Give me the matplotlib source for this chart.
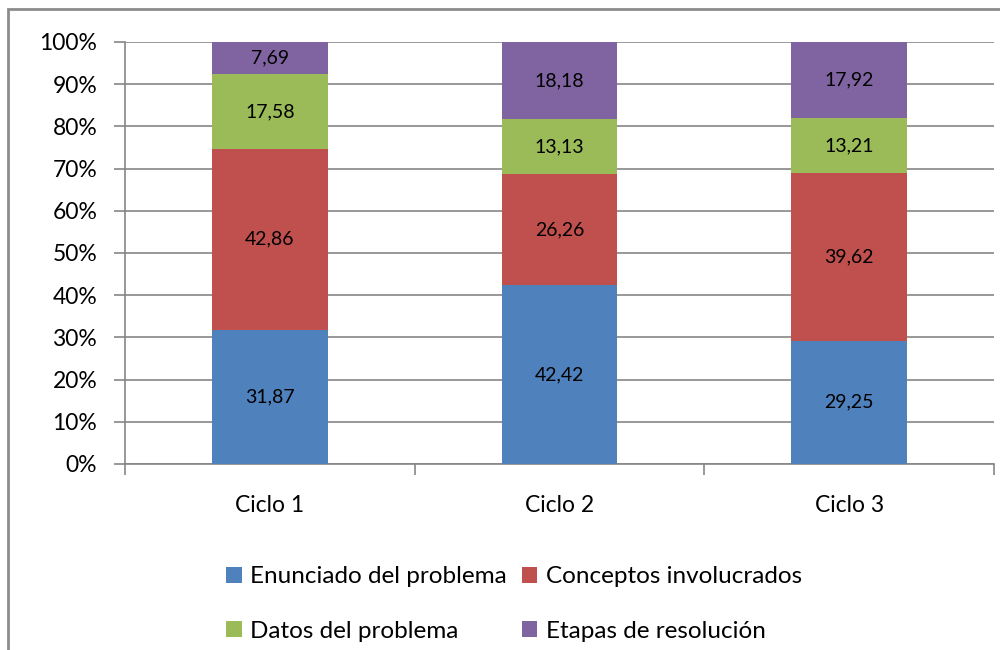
import matplotlib.pyplot as plt
from matplotlib.patches import Rectangle
import numpy as np

plt.rcParams["font.family"] = ["Lato", "DejaVu Sans"]

# Data
ciclos = ["Ciclo 1", "Ciclo 2", "Ciclo 3"]
series_names = [
    "Enunciado del problema",
    "Conceptos involucrados",
    "Datos del problema",
    "Etapas de resolución",
]
enunciado = [31.87, 42.42, 29.25]
conceptos = [42.86, 26.26, 39.62]
datos = [17.58, 13.13, 13.21]
etapas = [7.69, 18.18, 17.92]

colors = ["#4F81BD", "#C0504D", "#9BBB59", "#8064A2"]
grid_gray = "#868686"

fig = plt.figure(figsize=(10, 6.5), dpi=100)
ax = fig.add_axes([0.125, 1 - 464 / 650, 0.869, (464 - 42) / 650])

x = np.arange(len(ciclos))
bottom = np.zeros(len(ciclos))
handles = []
for name, vals, c in zip(series_names, [enunciado, conceptos, datos, etapas], colors):
    vals = np.array(vals)
    bars = ax.bar(x, vals, 0.4, bottom=bottom, color=c, edgecolor="none", label=name, zorder=3)
    for xi, v, b in zip(x, vals, bottom):
        ax.text(xi, b + v / 2, f"{v:.2f}".replace(".", ","), ha="center", va="center",
                fontsize=14, color="black", zorder=4)
    bottom = bottom + vals
    handles.append(bars)

ax.set_xlim(-0.5, 2.5)
ax.set_ylim(0, 100)
ax.set_yticks(np.arange(0, 101, 10))
ax.set_yticklabels([f"{v}%" for v in range(0, 101, 10)], fontsize=16.5)
ax.yaxis.grid(True, color=grid_gray, linewidth=1.2, zorder=0)
ax.set_xticks(x)
ax.set_xticklabels(ciclos, fontsize=16.5)
ax.set_xticks([-0.5, 0.5, 1.5, 2.5], minor=True)
ax.tick_params(axis="x", which="major", length=0, pad=22)
ax.tick_params(axis="x", which="minor", length=8, width=1.2, color=grid_gray, direction="out")
ax.tick_params(axis="y", length=8, width=1.2, color=grid_gray, pad=12)
for s in ["top", "right"]:
    ax.spines[s].set_visible(False)
for s in ["left", "bottom"]:
    ax.spines[s].set_color(grid_gray)
    ax.spines[s].set_linewidth(1.2)
ax.set_axisbelow(True)

# legend, two columns filled row by row as in Excel
order = [0, 2, 1, 3]
leg = fig.legend(
    handles=[handles[i] for i in order],
    labels=[series_names[i] for i in order],
    ncol=2,
    loc="center",
    bbox_to_anchor=(0.514, 1 - 604 / 650),
    frameon=False,
    fontsize=17.5,
    handlelength=0.65,
    handleheight=0.65,
    handletextpad=0.35,
    columnspacing=0.6,
    labelspacing=1.37,
)

# outer chart frame (cut off at right and bottom)
frame = Rectangle((8 / 1000, -0.1), 1.2, 1 - 9 / 650 + 0.1, transform=fig.transFigure,
                  fill=False, edgecolor="#8C8C8C", linewidth=2, clip_on=False)
fig.patches.append(frame)

fig.savefig("out.png", dpi=100)
